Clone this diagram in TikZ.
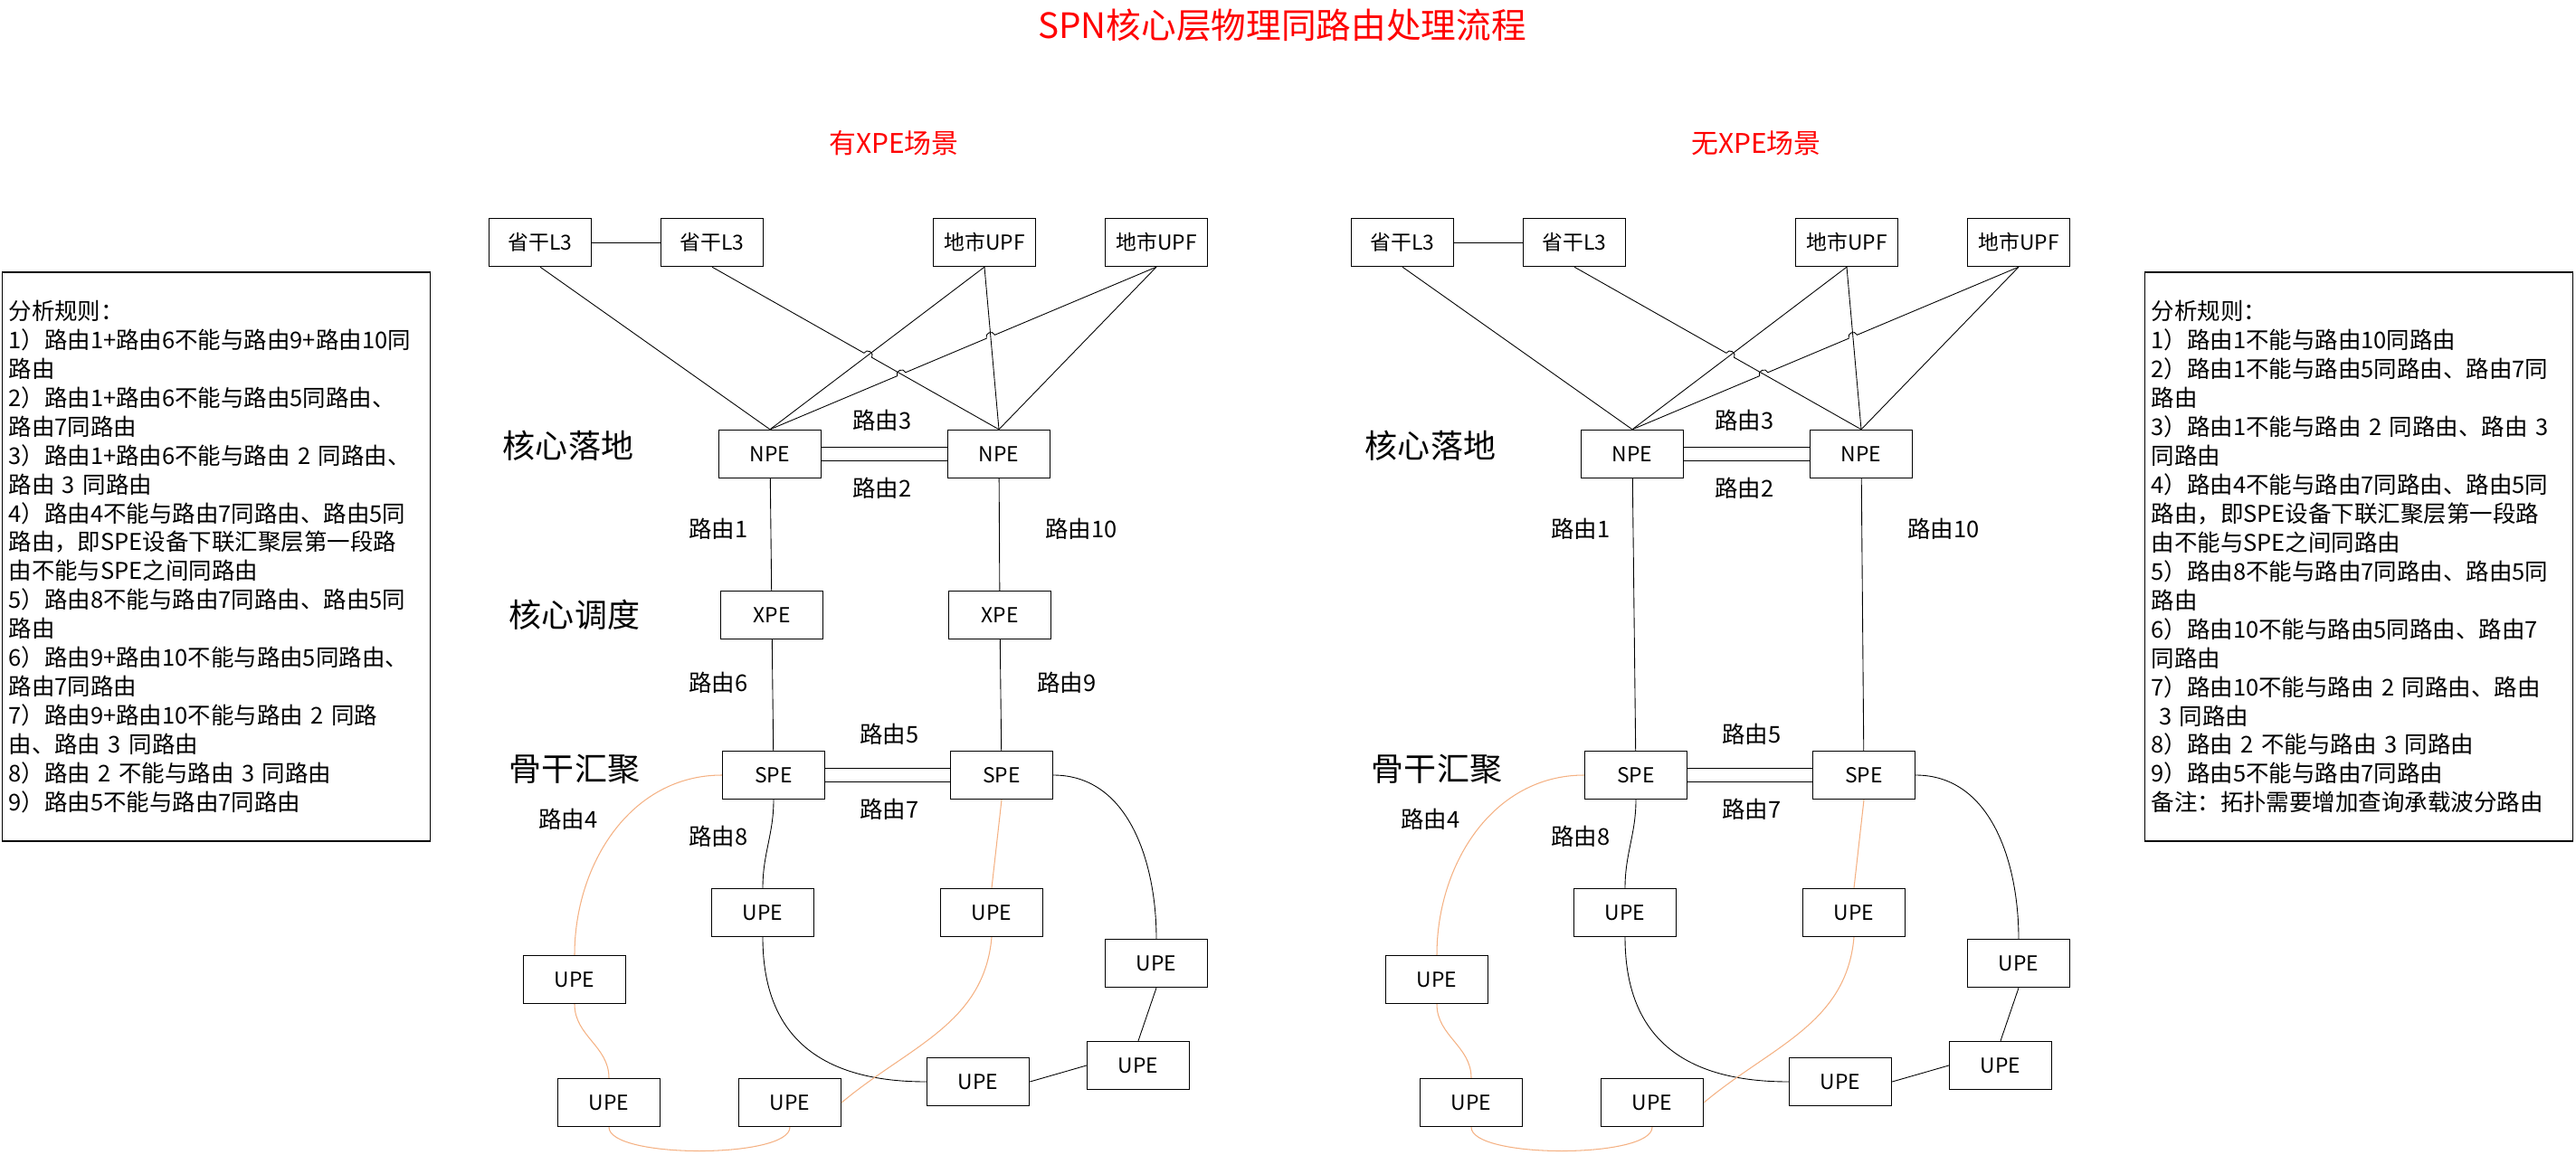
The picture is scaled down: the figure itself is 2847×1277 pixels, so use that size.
\documentclass[tikz,border=0pt]{standalone}
\usepackage{fontspec}
\setmainfont{Noto Sans CJK SC}
\usetikzlibrary{positioning,calc,intersections}
\definecolor{myred}{RGB}{255,0,0}
\definecolor{myorange}{RGB}{244,177,131}

% one plane of the network: #1 = name prefix, #2 = horizontal offset
\newcommand{\spnplane}[2]{%
  % Upper devices
  \node[device] (#1l3a) at (597+#2,-268) {省干L3};
  \node[device] (#1l3b) at (787+#2,-268) {省干L3};
  \node[device] (#1upfa) at (1088+#2,-268) {地市UPF};
  \node[device] (#1upfb) at (1278+#2,-268) {地市UPF};

  % Core and aggregation
  \node[device] (#1npe1) at (851+#2,-502) {NPE};
  \node[device] (#1npe2) at (1104+#2,-502) {NPE};
  \node[device] (#1spe1) at (855+#2,-857) {SPE};
  \node[device] (#1spe2) at (1107+#2,-857) {SPE};

  % Access ring
  \node[device] (#1upe1) at (843+#2,-1009) {UPE};
  \node[device] (#1upe2) at (1096+#2,-1009) {UPE};
  \node[device] (#1upe3) at (1278+#2,-1065) {UPE};
  \node[device] (#1upe4) at (635+#2,-1083) {UPE};
  \node[device] (#1upe5) at (673+#2,-1219) {UPE};
  \node[device] (#1upe6) at (873+#2,-1219) {UPE};
  \node[device] (#1upe7) at (1081+#2,-1196) {UPE};
  \node[device] (#1upe8) at (1258+#2,-1178) {UPE};

  % Layer names
  \node[layer] (#1core) at (628+#2,-493) {核心落地};
  \node[layer] (#1agg) at (635+#2,-850) {骨干汇聚};

  % Route labels
  \node[route] (#1r1) at (794+#2,-585) {路由1};
  \node[route] (#1r2) at (975+#2,-540) {路由2};
  \node[route] (#1r3) at (975+#2,-465) {路由3};
  \node[route] (#1r4) at (628+#2,-906) {路由4};
  \node[route] (#1r5) at (983+#2,-812) {路由5};
  \node[route] (#1r7) at (983+#2,-895) {路由7};
  \node[route] (#1r8) at (794+#2,-925) {路由8};
  \node[route] (#1r10) at (1195+#2,-585) {路由10};

  % Uplinks (with hops)
  \path[name path=#1lb] (#1l3b.south) -- (#1npe2.north);
  \path[name path=#1ua] (#1upfa.south) -- (#1npe1.north);
  \path[name path=#1ub] (#1upfb.south) -- (#1npe1.north);
  \path[name path=#1uc] (#1upfa.south) -- (#1npe2.north);
  \path[name intersections={of=#1lb and #1ua, by=#1h1}];
  \path[name intersections={of=#1ub and #1lb, by=#1h2}];
  \path[name intersections={of=#1ub and #1uc, by=#1h3}];
  \draw[link] (#1l3a) -- (#1l3b);
  \draw[link] (#1l3a.south) -- (#1npe1.north);
  \draw[link] (#1upfa.south) -- (#1npe1.north);
  \draw[link] (#1upfa.south) -- (#1npe2.north);
  \draw[link] (#1upfb.south) -- (#1npe2.north);
  \draw[link] (#1l3b.south) -- ($(#1h1)!0.1cm!(#1l3b.south)$)
    to[hop left] ($(#1h1)!0.1cm!(#1npe2.north)$) -- (#1npe2.north);
  \draw[link] (#1upfb.south) -- ($(#1h3)!0.1cm!(#1upfb.south)$)
    to[hop right] ($(#1h3)!0.1cm!(#1npe1.north)$)
    -- ($(#1h2)!0.1cm!(#1upfb.south)$)
    to[hop right] ($(#1h2)!0.1cm!(#1npe1.north)$) -- (#1npe1.north);

  % Core pairs
  \draw[pair] (#1npe1) -- (#1npe2);
  \draw[pair] (#1spe1) -- (#1spe2);

  % Aggregation and access
  \draw[link] (#1spe1.south) to[out=-90,in=90] (#1upe1.north);
  \draw[link] (#1upe1.south) to[out=-90,in=180,looseness=1.2] (#1upe7.west);
  \draw[link] (#1upe7.east) -- (#1upe8.west);
  \draw[link] (#1upe8.north) -- (#1upe3.south);
  \draw[link] (#1spe2.east) to[out=0,in=90] (#1upe3.north);
  \draw[fiber] (#1spe1.west) to[out=180,in=90] (#1upe4.north);
  \draw[fiber] (#1upe4.south) to[out=-90,in=90] (#1upe5.north);
  \draw[fiber] (#1upe5.south) to[out=-90,in=-90,looseness=0.45] (#1upe6.south);
  \draw[fiber] (#1upe6.east) to[out=40,in=-95] (#1upe2.south);
  \draw[fiber] (#1upe2.north) -- (#1spe2.south);
}

\begin{document}
\begin{tikzpicture}[
    x=0.02cm, y=0.02cm,
    device/.style={rectangle, draw, line width=0.8pt, minimum width=2.26cm, minimum height=1.06cm, inner sep=0pt, font=\fontsize{13}{15}\selectfont},
    layer/.style={font=\fontsize{20.5}{24}\selectfont},
    route/.style={font=\fontsize{14.5}{17}\selectfont},
    heading/.style={text=myred, font=\fontsize{17}{20}\selectfont},
    rules/.style={rectangle, draw, line width=0.8pt, minimum width=9.46cm, minimum height=12.58cm, text width=9.18cm, align=left, inner sep=0.14cm, font=\fontsize{14.5}{18.2}\selectfont},
    link/.style={line width=0.5pt},
    fiber/.style={line width=0.6pt, myorange},
    pair/.style={double, double distance=0.29cm, line width=0.5pt},
    hop left/.style={bend left=90, looseness=1.6},
    hop right/.style={bend right=90, looseness=1.6}
]
\useasboundingbox (0,0) rectangle (2847,-1277);

% Titles
\node[text=myred, font=\fontsize{22}{26}\selectfont] (title) at (1417,-28) {SPN核心层物理同路由处理流程};
\node[heading] (withxpe) at (988,-158) {有XPE场景};
\node[heading] (noxpe) at (1941,-158) {无XPE场景};

% With XPE
\spnplane{a-}{0}
\node[layer] (a-sched) at (635,-680) {核心调度};
\node[device] (a-xpe1) at (853,-680) {XPE};
\node[device] (a-xpe2) at (1105,-680) {XPE};
\node[route] (a-r6) at (794,-755) {路由6};
\node[route] (a-r9) at (1179,-755) {路由9};
\draw[link] (a-npe1) -- (a-xpe1);
\draw[link] (a-xpe1) -- (a-spe1);
\draw[link] (a-npe2) -- (a-xpe2);
\draw[link] (a-xpe2) -- (a-spe2);

% Without XPE
\spnplane{b-}{953}
\draw[link] (b-npe1) -- (b-spe1);
\draw[link] (b-npe2) -- (b-spe2);

% Rules
\node[rules] (rulesa) at (239,-615.5) {分析规则：\\
1）路由1+路由6不能与路由9+路由10同\\
路由\\
2）路由1+路由6不能与路由5同路由、\\
路由7同路由\\
3）路由1+路由6不能与路由 2 同路由、\\
路由 3 同路由\\
4）路由4不能与路由7同路由、路由5同\\
路由，即SPE设备下联汇聚层第一段路\\
由不能与SPE之间同路由\\
5）路由8不能与路由7同路由、路由5同\\
路由\\
6）路由9+路由10不能与路由5同路由、\\
路由7同路由\\
7）路由9+路由10不能与路由 2 同路\\
由、路由 3 同路由\\
8）路由 2 不能与路由 3 同路由\\
9）路由5不能与路由7同路由};
\node[rules] (rulesb) at (2607,-615.5) {分析规则：\\
1）路由1不能与路由10同路由\\
2）路由1不能与路由5同路由、路由7同\\
路由\\
3）路由1不能与路由 2 同路由、路由 3\\
同路由\\
4）路由4不能与路由7同路由、路由5同\\
路由，即SPE设备下联汇聚层第一段路\\
由不能与SPE之间同路由\\
5）路由8不能与路由7同路由、路由5同\\
路由\\
6）路由10不能与路由5同路由、路由7\\
同路由\\
7）路由10不能与路由 2 同路由、路由\\
\ 3 同路由\\
8）路由 2 不能与路由 3 同路由\\
9）路由5不能与路由7同路由\\
备注：拓扑需要增加查询承载波分路由};

\end{tikzpicture}
\end{document}
